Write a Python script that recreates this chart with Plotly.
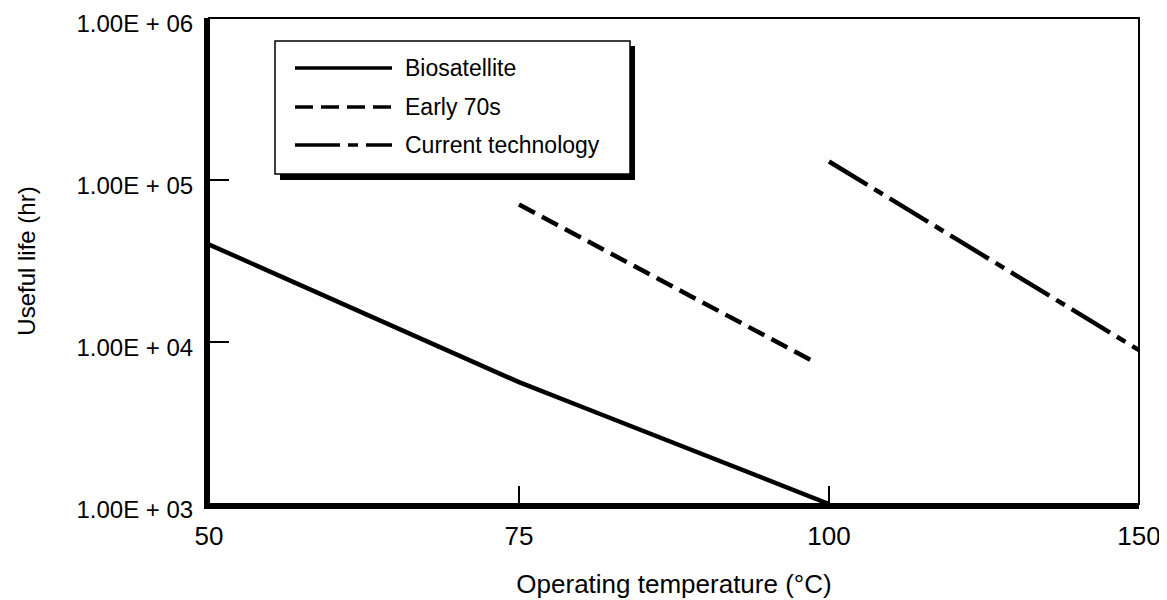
import numpy as np
import plotly.graph_objects as go

# ---------------- data ----------------
temp_ticks = [50, 75, 100, 150]
temp_tick_labels = ["50", "75", "100", "150"]
life_ticks = [1e3, 1e4, 1e5, 1e6]
life_tick_labels = ["1.00E + 03", "1.00E + 04", "1.00E + 05", "1.00E + 06"]

series_names = ["Biosatellite", "Early 70s", "Current technology"]

bio_temp = [50, 60, 70, 75, 80, 90, 100]
bio_life = [40000, 18300, 8400, 5650, 4000, 2000, 1000]

early_temp = [75, 99]
early_life = [70500, 7400]

current_temp = [100, 150]
current_life = [130000, 8900]

# ---------------- styling ----------------
FONT = "Liberation Sans, Arial, Helvetica, sans-serif"
OFF = 8                      # page body margin offset
W, H = 1167 - OFF, 600 - OFF
# plot area in screen pixels
SX0, SX1, SY0, SY1 = 209, 1139, 18, 504
ML, MR, MT, MB = SX0 - OFF, W - (SX1 - OFF), SY0 - OFF, H - (SY1 - OFF)
PW, PH = W - ML - MR, H - MT - MB

dashes = ["solid", "18px,8px", "45px,8px,10px,8px"]
LW = 4.5

# the printed temperature axis has evenly spaced, non-uniform ticks
tick_pos = list(range(len(temp_ticks)))


def to_axis(t):
    return np.interp(t, temp_ticks, tick_pos)


fig = go.Figure()
for name, tx, ly, dash in zip(series_names,
                               [bio_temp, early_temp, current_temp],
                               [bio_life, early_life, current_life],
                               dashes):
    fig.add_trace(go.Scatter(
        x=to_axis(tx), y=ly, mode="lines", name=name,
        line=dict(color="black", width=LW, dash=dash),
        showlegend=False,
    ))


def px(x):
    return (x - SX0) / (SX1 - SX0)


def py(y):
    return (SY1 - y) / (SY1 - SY0)


shapes = []
# frame: thin top/right
shapes.append(dict(type="rect", xref="paper", yref="paper", x0=0, x1=1, y0=0, y1=1,
                   line=dict(color="black", width=2), layer="above"))
# legend box with drop shadow
lx0, ly0, lx1, ly1 = 275, 41, 630, 174
shapes.append(dict(type="rect", xref="paper", yref="paper",
                   x0=px(lx0 + 5), x1=px(lx1 + 5), y0=py(ly1 + 6), y1=py(ly0 + 5),
                   fillcolor="black", line=dict(width=0), layer="above"))
shapes.append(dict(type="rect", xref="paper", yref="paper",
                   x0=px(lx0), x1=px(lx1), y0=py(ly1), y1=py(ly0),
                   fillcolor="white", line=dict(color="black", width=1.5), layer="above"))
annotations = []
row_y = [68, 107, 145]
for name, dash, ry in zip(series_names, dashes, row_y):
    shapes.append(dict(type="line", xref="paper", yref="paper",
                       x0=px(295), x1=px(392), y0=py(ry), y1=py(ry),
                       line=dict(color="black", width=3.5, dash=dash), layer="above"))
    annotations.append(dict(xref="paper", yref="paper", x=px(403), y=py(ry),
                            text=name, showarrow=False, xanchor="left", yanchor="middle",
                            font=dict(family=FONT, size=23, color="black")))

fig.update_layout(
    width=W, height=H,
    margin=dict(l=ML, r=MR, t=MT, b=MB, pad=0, autoexpand=False),
    paper_bgcolor="white", plot_bgcolor="white",
    font=dict(family=FONT, size=24, color="black"),
    shapes=shapes, annotations=annotations,
    showlegend=False,
)
fig.update_xaxes(
    automargin=False, ticklabeloverflow="allow",
    range=[tick_pos[0], tick_pos[-1]],
    tickvals=tick_pos, ticktext=temp_tick_labels,
    ticks="inside", ticklen=18, tickwidth=1.5, tickcolor="black",
    showline=True, linecolor="black", linewidth=5,
    showgrid=False, zeroline=False,
    ticklabelstandoff=5,
    title=dict(text="Operating temperature (°C)", standoff=26,
               font=dict(family=FONT, size=26, color="black")),
    tickfont=dict(family=FONT, size=26, color="black"),
)
fig.update_yaxes(
    automargin=False, ticklabeloverflow="allow",
    type="log", range=[3, 6],
    tickvals=life_ticks, ticktext=life_tick_labels,
    ticks="inside", ticklen=20, tickwidth=1.5, tickcolor="black",
    showline=True, linecolor="black", linewidth=5,
    showgrid=False, zeroline=False,
    ticklabelstandoff=6, ticklabelshift=6,
    title=dict(text="Useful life (hr)", standoff=36,
               font=dict(family=FONT, size=24, color="black")),
    tickfont=dict(family=FONT, size=24, color="black"),
)

fig.write_html("out.html")
